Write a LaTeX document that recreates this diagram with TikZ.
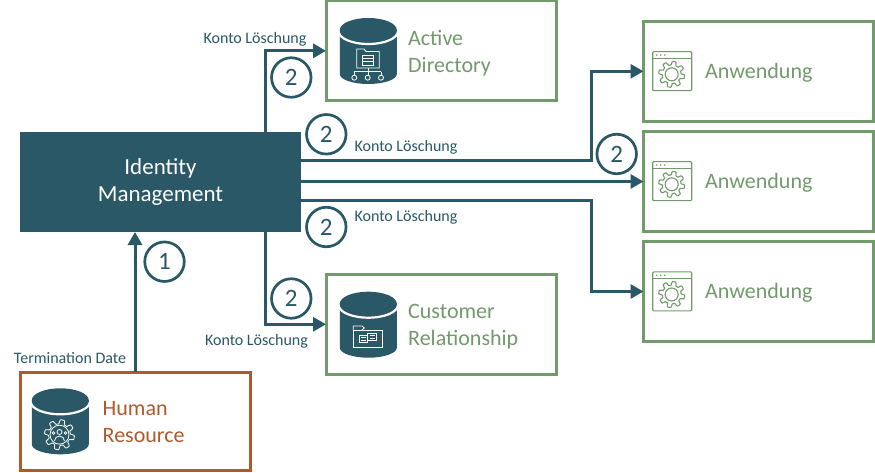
\documentclass[tikz,border=0pt]{standalone}
\usepackage{fontspec}
\setmainfont{Carlito}
\usetikzlibrary{arrows.meta,calc}
\definecolor{teal}{HTML}{2A5866}
\definecolor{grn}{HTML}{729B6C}
\definecolor{rust}{HTML}{B05A2C}
\tikzset{x=1pt,y=-1pt,
 sysbox/.style={draw=#1,line width=3pt,inner sep=0pt,outer sep=0pt,anchor=north west},
 bigtxt/.style={text=#1,font=\fontsize{22}{27}\selectfont,align=left,anchor=west,inner sep=0pt},
 lab/.style={text=teal,font=\fontsize{16}{18}\selectfont,inner sep=0pt},
 flow/.style={draw=teal,line width=3pt,-{Triangle[length=13pt,width=14pt]}},
 num/.style={circle,draw=teal,line width=2.7pt,fill=white,minimum size=39.5pt,inner sep=0pt,outer sep=0pt,text=teal,font=\fontsize{25}{27}\selectfont},
 ic/.style={draw=white,line width=.8pt,fill=none},
 gic/.style={draw=grn,line width=1.1pt,fill=none},
}
% cylinder: #1 = centre x, #2 = top y
\newcommand{\cyl}[2]{%
 \fill[teal] (#1-28.5,#2+12) -- (#1-28.5,#2+56) arc[x radius=28.5,y radius=10,start angle=180,end angle=0] -- (#1+28.5,#2+12) -- cycle;
 \draw[white,line width=2.2pt] (#1-29.5,#2+13.5) arc[x radius=29.5,y radius=12.5,start angle=180,end angle=0];
 \fill[teal] (#1,#2+12) ellipse[x radius=28.5,y radius=12];
}
% gear: centre x, centre y, outer radius, style
\newcommand{\gearic}[4]{%
 \draw[#4,line join=round] plot[samples=129,domain=0:360,variable=\a] ({#1+#3*(.86+.14*max(-1,min(1,2.2*sin(8*\a))))*cos(\a)},{#2+#3*(.86+.14*max(-1,min(1,2.2*sin(8*\a))))*sin(\a)}) -- cycle;
}
\newcommand{\appic}[2]{%
 \draw[gic,rounded corners=1pt] (#1,#2) rectangle (#1+39,#2+39);
 \draw[gic] (#1,#2+6.5) -- (#1+39,#2+6.5);
 \fill[grn] (#1+4,#2+3.3) circle(.9) (#1+8,#2+3.3) circle(.9) (#1+12,#2+3.3) circle(.9);
 \gearic{#1+19}{#2+22.6}{13}{gic}
 \draw[gic] (#1+19,#2+22.6) circle(6.5);
}
\begin{document}
\begin{tikzpicture}
\useasboundingbox (0,0) rectangle (875,473);
\fill[white] (0,0) rectangle (875,473);
% boxes
\node[sysbox=grn,minimum width=230pt,minimum height=99.7pt] (ad) at (326,1) {};
\node[sysbox=grn,minimum width=230pt,minimum height=100pt] (crm) at (326,274.3) {};
\node[sysbox=rust,minimum width=229.3pt,minimum height=98.7pt] (hr) at (20.7,372) {};
\node[sysbox=grn,minimum width=230pt,minimum height=100pt] (a1) at (643.5,21.3) {};
\node[sysbox=grn,minimum width=230pt,minimum height=100pt] (a2) at (643.5,131.3) {};
\node[sysbox=grn,minimum width=230pt,minimum height=100pt] (a3) at (643.5,241.5) {};
\node[fill=teal,minimum width=281pt,minimum height=100pt,anchor=north west,inner sep=0pt,outer sep=0pt,text=white,align=center,font=\fontsize{23}{27}\selectfont] (im) at (20,132) {\raisebox{-2.5pt}{Identity}\\\raisebox{-2.5pt}{Management}};
% coordinates on the central box
\coordinate (imN) at (265,132);
\coordinate (imS) at (265,232);
\coordinate (imHR) at (135,232);
\coordinate (hrN) at (135,372);
\coordinate (e1) at (301,160.3);
\coordinate (e2) at (301,181.5);
\coordinate (e3) at (301,201);
\coordinate (b1) at (591.7,160.3);
\coordinate (b3) at (591.7,201);
% connectors
\draw[flow] (imN) |- (ad.west);
\draw[flow] (imS) |- (crm.west);
\draw[flow] (hrN) -- (imHR);
\draw[flow] (e1) -- (b1) |- (a1.west);
\draw[flow] (e2) -- (e2 -| a2.west);
\draw[flow] (e3) -- (b3) |- (a3.west);
% labels
\node[lab] at (255,39.5) (l1) {Konto Löschung};
\node[lab] at (406,147.5) (l2) {Konto Löschung};
\node[lab] at (406,217.5) (l3) {Konto Löschung};
\node[lab] at (256.5,341.5) (l4) {Konto Löschung};
\node[lab] at (70,358.5) (l5) {Termination Date};
% numbers
\node[num] (n1) at (291.3,77.5) {2};
\node[num] (n2) at (326.3,134.3) {2};
\node[num] (n3) at (616.7,154) {2};
\node[num] (n4) at (326.3,227) {2};
\node[num] (n5) at (291.3,298.5) {2};
\node[num] (n6) at (164.5,261.7) {1};
% texts
\node[bigtxt=grn] (t1) at (408,53) {Active\\Directory};
\node[bigtxt=grn] (t2) at (408,327) {Customer\\Relationship};
\node[bigtxt=rust] (t3) at (102.5,422) {Human\\Resource};
\node[bigtxt=grn] (t4) at (705,72.5) {Anwendung};
\node[bigtxt=grn] (t5) at (705,182.5) {Anwendung};
\node[bigtxt=grn] (t6) at (705,292.5) {Anwendung};
% cylinders
\cyl{368.3}{18}
\cyl{368.3}{291.7}
\cyl{60.3}{388.3}
% AD icon
\draw[ic] (356.7,68) -- (356.7,49) -- (364,49) -- (366,51.5) -- (379.3,51.5) -- (379.3,68) -- cycle;
\draw[ic] (362.7,55) rectangle (373.3,65);
\draw[ic] (362.7,58.3) -- (373.3,58.3) (362.7,61.6) -- (373.3,61.6);
\draw[ic] (368,68) -- (368,75.2) (354.3,71.7) -- (381,71.7) (354.3,71.7) -- (354.3,75.2) (381,71.7) -- (381,75.2);
\draw[ic] (354.3,77.7) circle(2.5) (367.7,77.7) circle(2.5) (381,77.7) circle(2.5);
% CRM icon
\draw[ic] (353.3,330) rectangle (382,347.7);
\draw[ic] (353.3,330) -- (353.3,326) -- (362,326) -- (364.3,328) -- (362,330);
\draw[ic] (359.3,335) rectangle (367.7,342.7) (367.7,333.3) rectangle (376.7,340.7);
\draw[ic] (361,337.5) -- (366,337.5) (361,340) -- (366,340) (369.5,335.5) -- (375,335.5) (369.5,338) -- (375,338);
% HR icon
\gearic{59.5}{434.7}{15}{ic}
\draw[ic] (59.5,434.7) circle(9.5);
\draw[ic] (59.5,432) circle(2.5);
\draw[ic] (54.5,441) arc[x radius=5,y radius=5,start angle=180,end angle=360];
\draw[ic] (53.5,433) circle(1.4) (65.5,433) circle(1.4);
% app icons
\appic{652.7}{51.7}
\appic{652.7}{161.7}
\appic{652.7}{271.9}
\end{tikzpicture}
\end{document}
